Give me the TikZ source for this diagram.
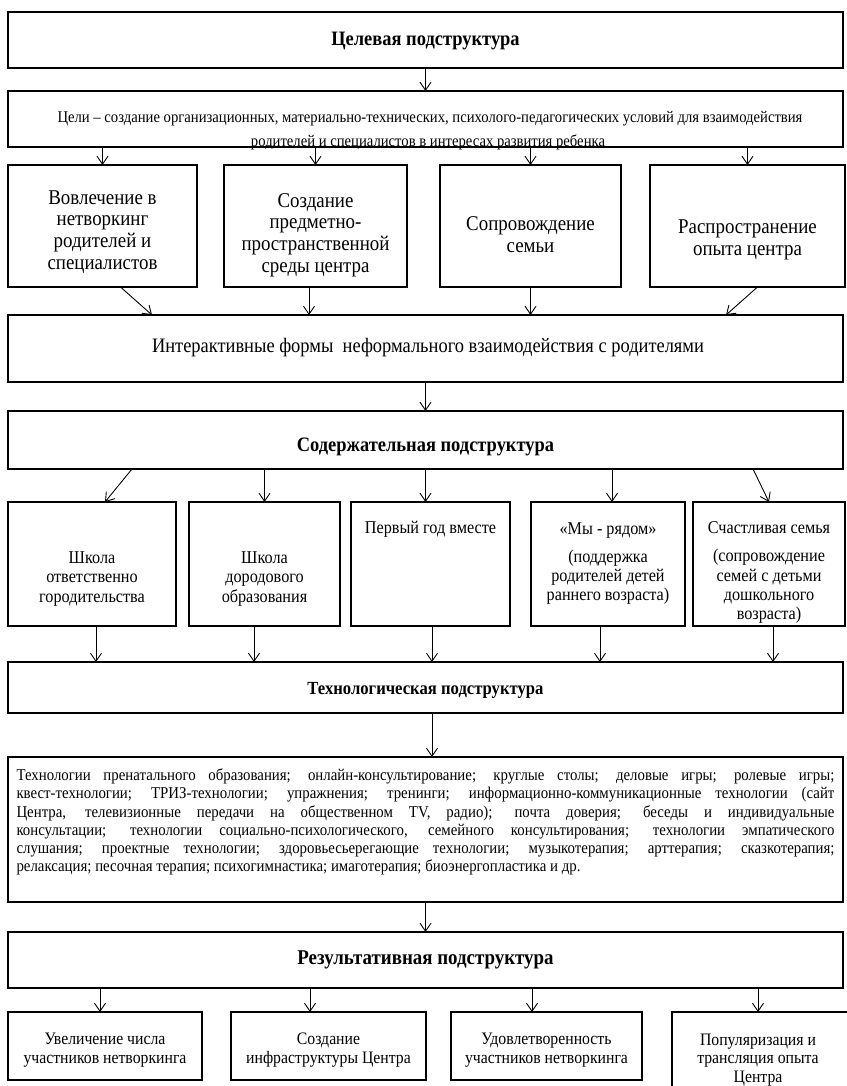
\documentclass[tikz,border=0pt]{standalone}
\usepackage{fontspec}
\setmainfont{Liberation Serif}[FakeStretch=0.9]
\usetikzlibrary{arrows.meta}
\newcommand\boxat[5]{%
  \pgfmathsetmacro\myBW{#4-#2}\pgfmathsetmacro\myBH{#5-#3}%
  \pgfmathsetmacro\myCX{(#2+#4)/2}\pgfmathsetmacro\myCY{(#3+#5)/2}%
  \node[box, minimum width=\myBW pt, minimum height=\myBH pt] (#1) at (\myCX,\myCY) {};}
\begin{document}
\begin{tikzpicture}[x=1pt,y=-1pt,
  box/.style={draw, line width=2.8pt, inner sep=0pt, outer sep=0pt},
  arr/.style={-{Straight Barb[length=8pt,width=11pt]}, line width=0.9pt},
  txt/.style={inner sep=0pt, align=center},
  title/.style={txt, font=\fontsize{20.5}{24}\selectfont\bfseries},
  big/.style={txt, font=\fontsize{21}{21.8}\selectfont},
  mid/.style={txt, font=\fontsize{18}{19.2}\selectfont},
  small/.style={txt, font=\fontsize{17.5}{18.5}\selectfont},
  goal/.style={inner sep=0pt, font=\fontsize{16.3}{19}\selectfont, anchor=base}]
\useasboundingbox (0,0) rectangle (846,1086);
% boxes
\boxat{A}{8}{12}{843}{68}
\boxat{B}{8}{91}{843}{147}
\boxat{r1a}{8}{165}{197}{287}
\boxat{r1b}{224}{165}{407}{287}
\boxat{r1c}{440}{165}{621}{287}
\boxat{r1d}{650}{165}{845}{287}
\boxat{C}{8}{315}{843}{382}
\boxat{D}{8}{411}{843}{469}
\boxat{r2a}{8}{502}{176}{626}
\boxat{r2b}{189}{502}{340}{626}
\boxat{r2c}{351}{502}{510}{626}
\boxat{r2d}{531}{502}{685}{626}
\boxat{r2e}{693}{502}{845}{626}
\boxat{E}{8}{662}{843}{713}
\boxat{F}{8}{757}{843}{902}
\boxat{G}{8}{932}{843}{988}
\boxat{r3a}{8}{1012}{202}{1080}
\boxat{r3b}{231}{1012}{426}{1080}
\boxat{r3c}{451}{1012}{642}{1080}
\boxat{r3d}{672}{1012}{852}{1096}
% texts
\node[title] (tA) at (425.5,41) {Целевая подструктура};
\node[goal] (tB1) at (430,123) {Цели – создание организационных, материально-технических, психолого-педагогических условий для взаимодействия};
\node[goal] (tB2) at (428,146.5) {родителей и специалистов в интересах развития ребенка};
\draw[line width=2.8pt] (B.south west) rectangle (B.north east);
\node[big] (t1a) at (102.5,232) {Вовлечение в\\нетворкинг\\родителей и\\специалистов};
\node[big] (t1b) at (315.5,235) {Создание\\предметно-\\пространственной\\среды центра};
\node[big] (t1c) at (530.5,235) {Сопровождение\\семьи};
\node[big] (t1d) at (747.5,240) {Распространение\\опыта центра};
\node[txt, font=\fontsize{20.5}{22}\selectfont] (tC) at (428,348) {Интерактивные формы\ \ неформального взаимодействия с родителями};
\node[title] (tD) at (425.5,447) {Содержательная подструктура};
\node[mid] (t2a) at (92,579) {Школа\\ответственно\\городительства};
\node[mid] (t2b) at (264.5,579) {Школа\\дородового\\образования};
\node[mid] (t2c) at (430.5,529) {Первый год вместе};
\node[mid] (t2d) at (608,563.5) {«Мы - рядом»\\[9pt](поддержка\\родителей детей\\раннего возраста)};
\node[mid] (t2e) at (769,572.5) {Счастливая семья\\[9pt](сопровождение\\семей с детьми\\дошкольного\\возраста)};
\node[txt, font=\fontsize{18.5}{22}\selectfont\bfseries] (tE) at (425.5,690) {Технологическая подструктура};
\node[inner sep=0pt, text width=818pt, align=justify, font=\fontsize{16.5}{18.2}\selectfont] (tF) at (425.5,822)
{\hyphenpenalty=10000\exhyphenpenalty=10000
Технологии пренатального образования; онлайн-консультирование; круглые столы; деловые игры; ролевые игры;\linebreak
квест-технологии; ТРИЗ-технологии; упражнения; тренинги; информационно-коммуникационные технологии (сайт\linebreak
Центра, телевизионные передачи на общественном TV, радио); почта доверия; беседы и индивидуальные\linebreak
консультации; технологии социально-психологического, семейного консультирования; технологии эмпатического\linebreak
слушания; проектные технологии; здоровьесьерегающие технологии; музыкотерапия; арттерапия; сказкотерапия;\linebreak
релаксация; песочная терапия; психогимнастика; имаготерапия; биоэнергопластика и др.};
\node[txt, font=\fontsize{21}{24}\selectfont\bfseries] (tG) at (425.5,960) {Результативная подструктура};
\node[small] (t3a) at (105,1050) {Увеличение числа\\участников нетворкинга};
\node[small] (t3b) at (328.5,1050) {Создание\\инфраструктуры Центра};
\node[small] (t3c) at (546.5,1050) {Удовлетворенность\\участников нетворкинга};
\node[small] (t3d) at (758,1060) {Популяризация и\\трансляция опыта\\Центра};
% arrows
\draw[arr] (A.south) -- (B.north);
\draw[arr] (B.south -| r1a.north) -- (r1a.north);
\draw[arr] (B.south -| r1b.north) -- (r1b.north);
\draw[arr] (B.south -| r1c.north) -- (r1c.north);
\draw[arr] (B.south -| r1d.north) -- (r1d.north);
\draw[arr] ([xshift=18pt]r1a.south) -- ([xshift=144pt]C.north west);
\draw[arr] ([xshift=-6.5pt]r1b.south) -- ([xshift=-6.5pt]r1b.south |- C.north);
\draw[arr] (r1c.south) -- (r1c.south |- C.north);
\draw[arr] ([xshift=10pt]r1d.south) -- ([xshift=718pt]C.north west);
\draw[arr] (C.south) -- (D.north);
\draw[arr] ([xshift=124pt]D.south west) -- ([xshift=13pt]r2a.north);
\draw[arr] (D.south -| r2b.north) -- (r2b.north);
\draw[arr] (D.south) -- (D.south |- r2c.north);
\draw[arr] ([xshift=4pt]r2d.north |- D.south) -- ([xshift=4pt]r2d.north);
\draw[arr] ([xshift=745pt]D.south west) -- (r2e.north);
\draw[arr] ([xshift=4pt]r2a.south) -- ([xshift=4pt]r2a.south |- E.north);
\draw[arr] ([xshift=-10.5pt]r2b.south) -- ([xshift=-10.5pt]r2b.south |- E.north);
\draw[arr] ([xshift=1.5pt]r2c.south) -- ([xshift=1.5pt]r2c.south |- E.north);
\draw[arr] ([xshift=-8pt]r2d.south) -- ([xshift=-8pt]r2d.south |- E.north);
\draw[arr] ([xshift=4pt]r2e.south) -- ([xshift=4pt]r2e.south |- E.north);
\draw[arr] ([xshift=6.5pt]E.south) -- ([xshift=6.5pt]E.south |- F.north);
\draw[arr] (F.south) -- (G.north);
\draw[arr] ([xshift=-5pt]r3a.north |- G.south) -- ([xshift=-5pt]r3a.north);
\draw[arr] ([xshift=-18.5pt]r3b.north |- G.south) -- ([xshift=-18.5pt]r3b.north);
\draw[arr] ([xshift=-14.5pt]r3c.north |- G.south) -- ([xshift=-14.5pt]r3c.north);
\draw[arr] ([xshift=-4pt]r3d.north |- G.south) -- ([xshift=-4pt]r3d.north);
\end{tikzpicture}
\end{document}
